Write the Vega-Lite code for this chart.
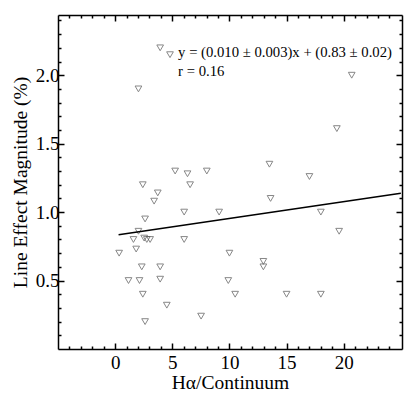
{
  "$schema": "https://vega.github.io/schema/vega-lite/v6.json",
  "width": 344,
  "height": 334,
  "autosize": {"type": "none"},
  "padding": {"left": 58, "top": 15, "right": 7, "bottom": 46},
  "background": "white",
  "config": {
    "view": {"stroke": null},
    "font": "Liberation Serif",
    "axis": {
      "grid": false,
      "domainColor": "black",
      "domainWidth": 1.5,
      "tickColor": "black",
      "labelFont": "Liberation Serif",
      "titleFont": "Liberation Serif",
      "labelColor": "black",
      "titleColor": "black",
      "titleFontWeight": "normal"
    }
  },
  "datasets": {
    "pts": [
      {"x": 3.94, "y": 2.20}, {"x": 4.8, "y": 2.15}, {"x": 2.04, "y": 1.90}, {"x": 20.7, "y": 2.0},
      {"x": 19.4, "y": 1.61}, {"x": 5.25, "y": 1.30}, {"x": 6.33, "y": 1.28}, {"x": 8.02, "y": 1.30},
      {"x": 13.5, "y": 1.35}, {"x": 6.56, "y": 1.20}, {"x": 2.42, "y": 1.20}, {"x": 3.73, "y": 1.14},
      {"x": 3.41, "y": 1.08}, {"x": 17.0, "y": 1.26}, {"x": 13.6, "y": 1.10}, {"x": 6.04, "y": 1.00},
      {"x": 9.1, "y": 1.00}, {"x": 18.0, "y": 1.00}, {"x": 2.62, "y": 0.95}, {"x": 2.04, "y": 0.86},
      {"x": 19.6, "y": 0.86}, {"x": 1.6, "y": 0.80}, {"x": 2.54, "y": 0.81}, {"x": 2.77, "y": 0.80},
      {"x": 3.06, "y": 0.80}, {"x": 6.04, "y": 0.80}, {"x": 0.35, "y": 0.70}, {"x": 1.84, "y": 0.73},
      {"x": 10.0, "y": 0.70}, {"x": 12.97, "y": 0.64}, {"x": 12.97, "y": 0.60}, {"x": 2.33, "y": 0.60},
      {"x": 3.94, "y": 0.60}, {"x": 1.17, "y": 0.50}, {"x": 2.13, "y": 0.50}, {"x": 3.94, "y": 0.51},
      {"x": 9.9, "y": 0.50}, {"x": 2.42, "y": 0.40}, {"x": 10.5, "y": 0.40}, {"x": 15.0, "y": 0.40},
      {"x": 18.0, "y": 0.40}, {"x": 4.52, "y": 0.32}, {"x": 7.52, "y": 0.24}, {"x": 2.62, "y": 0.20}
    ],
    "fit": [{"x": 0.3, "y": 0.835}, {"x": 25.0, "y": 1.137}],
    "notes": [
      {"x": 5.51, "y": 2.162, "label": "y = (0.010 ± 0.003)x + (0.83 ± 0.02)"},
      {"x": 5.51, "y": 2.023, "label": "r = 0.16"}
    ]
  },
  "layer": [
    {
      "data": {"name": "pts"},
      "mark": {"type": "point", "shape": "triangle-down", "filled": false, "stroke": "#555555", "strokeWidth": 1, "size": 45},
      "encoding": {
        "x": {"field": "x", "type": "quantitative", "scale": {"domain": [-5, 25.1], "nice": false, "zero": false},
          "axis": {"orient": "bottom", "values": [0, 5, 10, 15, 20], "tickSize": -6, "tickWidth": 1.5, "labelFontSize": 19, "labelPadding": 10, "title": "Hα/Continuum", "titleFontSize": 19.5, "titlePadding": 1}},
        "y": {"field": "y", "type": "quantitative", "scale": {"domain": [0, 2.44], "nice": false, "zero": false},
          "axis": {"orient": "left", "values": [0.5, 1.0, 1.5, 2.0], "format": ".1f", "tickSize": -6, "tickWidth": 1.5, "labelFontSize": 19, "labelPadding": 5, "title": "Line Effect Magnitude (%)", "titleFontSize": 19.5, "titlePadding": 5}}
      }
    },
    {
      "data": {"name": "fit"},
      "mark": {"type": "line", "color": "black", "strokeWidth": 1.5},
      "encoding": {
        "x": {"field": "x", "type": "quantitative", "scale": {"domain": [-5, 25.1], "nice": false, "zero": false},
          "axis": {"orient": "top", "values": [0, 5, 10, 15, 20], "tickSize": -6, "tickWidth": 1.5, "labels": false, "title": null}},
        "y": {"field": "y", "type": "quantitative", "scale": {"domain": [0, 2.44], "nice": false, "zero": false},
          "axis": {"orient": "right", "values": [0.5, 1.0, 1.5, 2.0], "tickSize": -6, "tickWidth": 1.5, "labels": false, "title": null}}
      }
    },
    {
      "data": {"name": "pts"},
      "mark": {"type": "point", "opacity": 0},
      "encoding": {
        "x": {"field": "x", "type": "quantitative", "scale": {"domain": [-5, 25.1], "nice": false, "zero": false},
          "axis": {"orient": "bottom", "values": [-4, -3, -2, -1, 1, 2, 3, 4, 6, 7, 8, 9, 11, 12, 13, 14, 16, 17, 18, 19, 21, 22, 23, 24], "tickSize": -3, "tickWidth": 1.5, "labels": false, "domain": false, "title": null}},
        "y": {"field": "y", "type": "quantitative", "scale": {"domain": [0, 2.44], "nice": false, "zero": false},
          "axis": {"orient": "left", "values": [0.1, 0.2, 0.3, 0.4, 0.6, 0.7, 0.8, 0.9, 1.1, 1.2, 1.3, 1.4, 1.6, 1.7, 1.8, 1.9, 2.1, 2.2, 2.3, 2.4], "tickSize": -3, "tickWidth": 1.5, "labels": false, "domain": false, "title": null}}
      }
    },
    {
      "data": {"name": "notes"},
      "mark": {"type": "text", "align": "left", "baseline": "middle", "font": "Liberation Serif", "fontSize": 14.7, "color": "black"},
      "encoding": {
        "text": {"field": "label"},
        "x": {"field": "x", "type": "quantitative", "scale": {"domain": [-5, 25.1], "nice": false, "zero": false},
          "axis": {"orient": "top", "values": [-4, -3, -2, -1, 1, 2, 3, 4, 6, 7, 8, 9, 11, 12, 13, 14, 16, 17, 18, 19, 21, 22, 23, 24], "tickSize": -3, "tickWidth": 1.5, "labels": false, "domain": false, "title": null}},
        "y": {"field": "y", "type": "quantitative", "scale": {"domain": [0, 2.44], "nice": false, "zero": false},
          "axis": {"orient": "right", "values": [0.1, 0.2, 0.3, 0.4, 0.6, 0.7, 0.8, 0.9, 1.1, 1.2, 1.3, 1.4, 1.6, 1.7, 1.8, 1.9, 2.1, 2.2, 2.3, 2.4], "tickSize": -3, "tickWidth": 1.5, "labels": false, "domain": false, "title": null}}
      }
    }
  ],
  "resolve": {"axis": {"x": "independent", "y": "independent"}}
}
